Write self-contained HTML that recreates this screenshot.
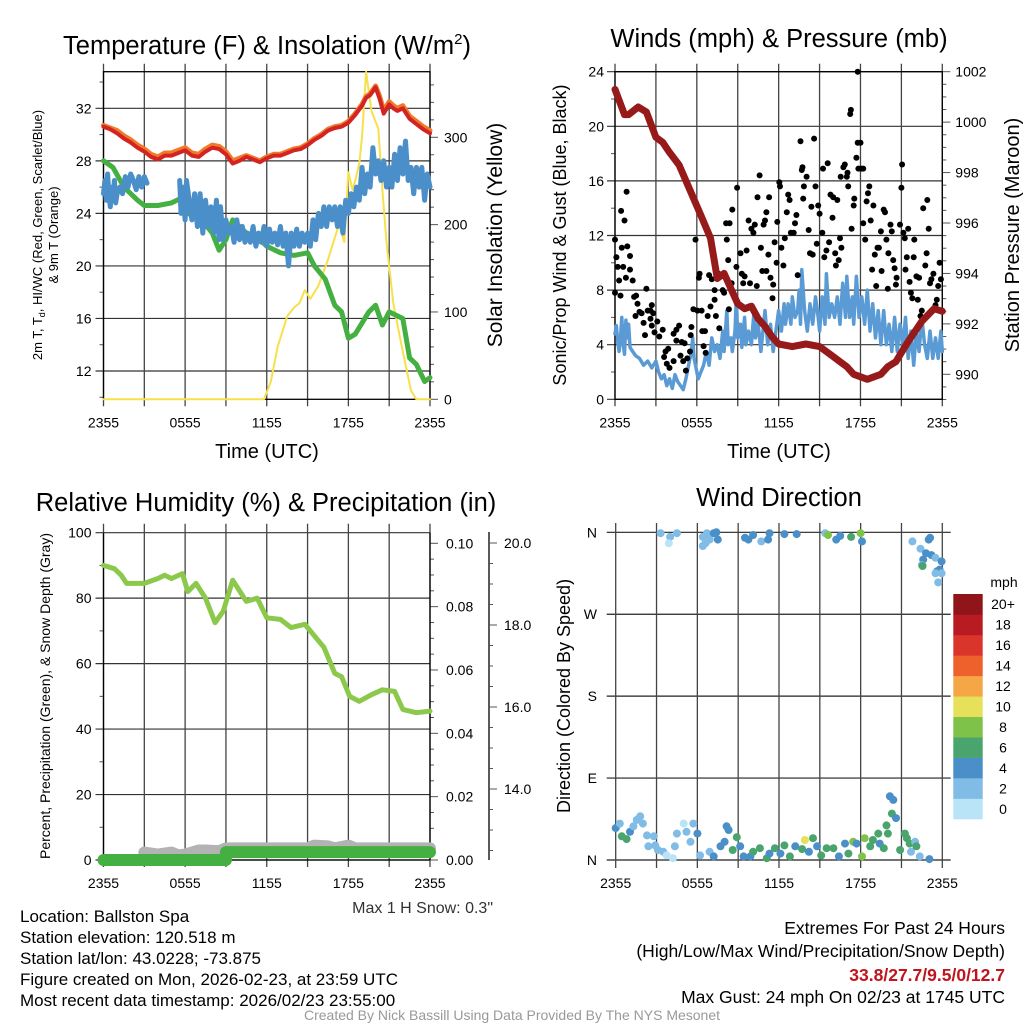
<!DOCTYPE html>
<html><head><meta charset="utf-8">
<style>
html,body{margin:0;padding:0;background:#fff;}
svg{display:block;font-family:"Liberation Sans",sans-serif;}
</style></head>
<body>
<svg id="chart" width="1024" height="1024" viewBox="0 0 1024 1024" xmlns="http://www.w3.org/2000/svg">
<rect width="1024" height="1024" fill="#fff"/>
<g id="p1"></g>
<g id="p2"></g>
<g id="p3"></g>
<g id="p4"></g>
<g id="txt">
<text x="20" y="922" font-size="17">Location: Ballston Spa</text>
<text x="20" y="943" font-size="17">Station elevation: 120.518 m</text>
<text x="20" y="964" font-size="17">Station lat/lon: 43.0228; -73.875</text>
<text x="20" y="985" font-size="17">Figure created on Mon, 2026-02-23, at 23:59 UTC</text>
<text x="20" y="1006" font-size="17">Most recent data timestamp: 2026/02/23 23:55:00</text>
<text x="493" y="913" font-size="16" text-anchor="end" fill="#333">Max 1 H Snow: 0.3"</text>
<text x="1005" y="934" font-size="17.5" text-anchor="end">Extremes For Past 24 Hours</text>
<text x="1005" y="957" font-size="17.5" text-anchor="end">(High/Low/Max Wind/Precipitation/Snow Depth)</text>
<text x="1005" y="981" font-size="17.5" font-weight="bold" text-anchor="end" fill="#c0151d">33.8/27.7/9.5/0/12.7</text>
<text x="1005" y="1003" font-size="17.5" text-anchor="end">Max Gust: 24 mph On 02/23 at 1745 UTC</text>
<text x="512" y="1020" font-size="14" text-anchor="middle" fill="#999">Created By Nick Bassill Using Data Provided By The NYS Mesonet</text>
</g>
</svg>
<script>
// ---------- DATA ----------
const timeTicks = ["2355","0555","1155","1755","2355"];
// Panel 1
const tempH = [0,0.5,1,1.5,2,2.5,3,3.5,4,4.5,5,5.5,6,6.5,7,7.5,8,8.5,9,9.5,10,10.5,11,11.5,12,12.5,13,13.5,14,14.5,15,15.5,16,16.5,17,17.5,18,18.5,19,19.3,19.6,20,20.3,20.6,21,21.3,21.6,22,22.5,23,23.5,24];
const tempV = [30.6,30.4,30.1,29.7,29.4,29.0,28.7,28.3,28.1,28.4,28.4,28.6,28.8,28.4,28.3,28.7,29.0,28.9,28.5,27.8,28.0,28.3,28.1,27.9,28.2,28.4,28.4,28.6,28.8,28.9,29.2,29.6,29.9,30.3,30.5,30.6,30.9,31.5,32.2,32.8,33.0,33.6,32.7,31.6,32.3,32.0,31.8,32.0,31.2,30.8,30.4,30.1];
const t9V = [30.7,30.5,30.3,29.9,29.6,29.2,28.9,28.5,28.3,28.6,28.6,28.8,29.0,28.6,28.5,28.9,29.2,29.1,28.7,28.0,28.2,28.4,28.2,28.0,28.3,28.5,28.5,28.7,28.9,29.0,29.3,29.7,30.0,30.4,30.6,30.7,31.0,31.6,32.3,32.9,33.1,33.7,32.9,31.8,32.5,32.2,32.0,32.2,31.4,31.0,30.6,30.3];
const dewH = [0,0.7,1.5,2.5,3,4,5,5.8,6.1,7,8,8.5,9,9.5,10.5,11.5,12,13,14,15,15.5,16.3,17,17.5,18,18.5,19.5,20,20.5,21,22,22.5,23,23.6,24];
const dewV = [28.0,27.5,26.0,25.0,24.6,24.6,24.8,25.2,24.0,23.8,22.5,21.2,22.0,23.5,22.5,22.0,21.5,21.0,20.8,21.0,20.0,19.0,17.0,16.5,14.5,14.8,16.5,17.0,15.5,16.5,16.0,13.0,12.5,11.2,11.5];
const wcH1 = [0,0.1,0.2,0.3,0.4,0.5,0.6,0.7,0.8,0.9,1.0,1.2,1.4,1.6,1.8,2.0,2.2,2.4,2.6,2.8,3.0,3.2];
const wcV1 = [25.5,26.5,25.0,27.0,25.5,24.5,26.0,25.0,26.5,24.8,25.5,26.0,25.5,26.8,26.0,27.0,26.5,25.8,26.8,26.0,26.8,26.3];
const wcH2 = [5.6,5.7,5.8,6.0,6.1,6.3,6.5,6.7,6.9,7.1,7.3,7.5,7.7,7.9,8.1,8.3,8.5,8.6,8.8,9.0,9.2,9.4,9.6,9.8,10.0,10.2,10.4,10.6,10.8,11.0,11.2,11.4,11.6,11.8,12.0,12.2,12.4,12.6,12.8,13.0,13.2,13.4,13.6,13.8,14.0,14.2,14.4,14.6,14.8,15.0,15.2,15.4,15.6,15.8,16.0,16.2,16.4,16.6,16.8,17.0,17.2,17.4,17.6,17.8,18.0,18.2,18.4,18.6,18.8,19.0,19.2,19.4,19.6,19.8,20.0,20.2,20.4,20.6,20.8,21.0,21.2,21.4,21.6,21.8,22.0,22.2,22.4,22.6,22.8,23.0,23.2,23.4,23.6,23.8,24.0];
const wcV2 = [26.5,24.0,26.0,23.5,26.5,25.0,23.5,25.5,23.0,25.5,22.5,25.0,23.0,24.5,22.5,25.0,22.0,24.5,22.0,23.5,22.5,23.0,21.8,23.5,22.0,23.0,21.8,22.5,21.8,23.0,21.5,22.5,21.8,23.0,21.5,22.8,21.8,22.5,21.6,23.0,21.5,22.5,20.0,22.5,21.5,22.8,21.5,22.5,21.8,22.5,21.5,23.5,22.0,24.0,23.0,24.5,23.0,24.5,23.5,24.5,23.0,24.5,22.5,25.0,24.0,25.5,24.5,26.0,25.0,27.5,25.5,27.0,26.0,29.0,27.0,28.0,26.5,28.0,26.0,27.5,26.0,28.5,26.5,29.0,27.0,29.5,26.5,27.5,25.5,27.5,26.0,27.5,25.0,27.0,26.0];
const solH = [0,11.8,12.3,12.8,13.5,14,14.4,14.8,15.2,15.8,16.5,17.3,17.7,18.0,18.3,18.5,18.8,19.0,19.3,19.7,20.2,20.5,20.8,21.3,21.8,22.2,22.6,23,24];
const solV = [0,0,20,60,95,105,110,125,115,130,160,200,180,260,240,250,270,300,375,330,310,240,180,110,70,40,10,0,0];
const tempTicks = [12,16,20,24,28,32];
const solTicks = [0,100,200,300];
// Panel 2
const windH = [0,0.1,0.2,0.3,0.4,0.5,0.6,0.7,0.8,0.9,1.0,1.1,1.3,1.5,1.8,2.1,2.4,2.7,3.0,3.2,3.4,3.6,3.8,4.0,4.2,4.4,4.6,4.8,5.0,5.2,5.4,5.6,5.7,5.8,5.9,6.1,6.3,6.5,6.7,6.9,7.1,7.3,7.5,7.7,7.9,8.0,8.2,8.3,8.5,8.6,8.8,8.9,9.0,9.2,9.3,9.5,9.6,9.8,10.0,10.2,10.3,10.5,10.7,10.9,11.0,11.2,11.4,11.6,11.8,12.0,12.2,12.4,12.5,12.7,12.9,13.0,13.2,13.4,13.5,13.6,13.7,13.9,14.1,14.3,14.5,14.7,14.9,15.0,15.2,15.4,15.5,15.7,15.9,16.1,16.3,16.5,16.7,16.9,17.0,17.2,17.4,17.5,17.7,17.9,18.1,18.3,18.5,18.7,18.9,19.1,19.3,19.5,19.7,19.9,20.1,20.3,20.5,20.7,20.9,21.1,21.3,21.5,21.7,21.9,22.1,22.3,22.5,22.7,22.9,23.1,23.3,23.5,23.7,23.9,24];
const windV = [4.8,5.4,4.2,3.5,4.5,6.0,4.0,3.3,5.8,4.5,5.5,3.8,3.5,3.2,3.0,2.5,2.8,2.3,2.8,2.0,1.5,1.8,1.0,1.5,0.8,1.8,1.3,1.0,0.7,1.5,2.5,3.5,4.5,3.0,2.5,1.5,2.0,2.5,3.5,2.5,4.5,3.5,4.0,3.0,5.0,3.5,6.5,4.0,4.5,3.5,5.0,7.5,4.5,5.5,3.8,6.0,4.0,5.0,4.0,6.5,4.5,5.5,3.5,5.5,6.5,4.0,5.5,3.5,5.0,6.5,5.0,7.0,5.5,7.0,5.5,7.5,6.0,6.5,8.0,5.5,9.5,6.5,5.0,7.0,5.5,7.5,6.0,5.0,7.5,5.5,9.2,6.0,7.0,6.0,7.5,5.5,8.5,6.0,9.0,6.0,7.5,5.5,9.0,6.0,7.5,5.5,8.0,5.0,7.0,4.5,6.5,4.0,6.5,4.0,5.5,3.5,6.0,3.5,5.5,4.0,6.0,3.0,5.0,2.5,5.0,3.5,6.0,4.0,3.0,5.0,3.0,4.5,3.0,5.0,3.5];
const gustH = [0,0.1,0.2,0.3,0.4,0,0.45,0.7,0.85,0.5,0.9,0.6,0.8,1.1,1.1,1.3,1.4,1.55,1.65,1.5,1.8,1.95,2.1,2.2,2.3,2.4,2.6,2.7,2.6,2.8,2.7,2.9,3.1,3.25,3.5,3.6,3.7,3.8,4.0,3.9,4.3,4.3,4.5,4.7,4.5,4.8,4.9,5.0,5.2,5.3,5.1,5.5,5.55,5.6,5.75,5.9,6.05,6.15,6.2,6.35,6.4,6.6,6.5,6.65,6.8,6.9,7.1,7.0,7.3,7.4,7.3,7.6,7.65,7.9,8.0,8.2,8.15,8.4,8.3,8.35,8.55,8.6,8.9,8.95,9.2,9.3,9.4,9.5,9.65,9.8,9.9,10.0,10.15,10.25,10.45,10.4,10.6,10.7,10.8,10.9,11.0,11.1,11.1,11.25,11.3,11.4,11.55,11.6,11.7,11.85,11.9,12.05,12.1,12.2,12.35,12.45,12.6,12.7,12.8,12.9,13.1,13.2,13.3,13.4,13.6,13.7,13.75,13.8,13.85,14.05,14.2,14.3,14.4,14.5,14.6,14.7,14.8,14.9,15.0,15.2,15.25,15.35,15.5,15.6,15.7,15.8,15.95,16.0,16.15,16.2,16.3,16.4,16.5,16.55,16.6,16.75,16.85,17.0,17.05,17.1,17.25,17.3,17.35,17.5,17.55,17.7,17.8,17.8,17.85,18.0,18.05,18.2,18.2,18.35,18.45,18.55,18.65,18.75,18.85,18.95,19.05,19.15,19.25,19.35,19.5,19.55,19.7,19.8,19.9,20.0,20.05,20.2,20.3,20.4,20.5,20.6,20.65,20.9,21.0,21.05,21.15,21.25,21.3,21.4,21.5,21.6,21.7,21.8,21.9,21.95,22.1,22.2,22.3,22.4,22.5,22.6,22.75,22.85,22.9,23.0,23.1,23.2,23.35,23.5,23.6,23.7,23.8,23.9,24.0];
const gustV = [11.7,10.4,9.7,8.7,7.6,7.8,13.8,13.1,15.2,11.1,11.2,9.7,8.9,10.5,9.5,8.7,7.5,7.6,7.0,6.1,6.4,6.3,5.6,4.7,8.1,6.5,6.5,6.9,5.9,6.3,5.4,4.9,5.7,4.6,5.1,3.1,3.5,2.6,2.3,3.7,2.8,4.8,5.1,5.4,4.3,3.2,4.2,2.8,2.1,3.0,4.1,3.5,4.7,5.3,6.6,11.7,6.5,8.9,9.2,6.5,5.0,5.0,3.9,3.4,6.1,9.1,8.8,6.8,7.3,6.1,8.0,9.2,5.2,8.0,7.8,11.7,12.9,12.9,10.2,6.6,8.5,13.9,9.7,15.5,10.7,9.2,8.5,9.0,10.9,13.1,8.5,12.5,12.2,12.8,14.8,8.3,16.4,11.1,9.4,12.8,13.1,9.4,13.7,10.6,14.8,8.9,7.4,8.4,11.5,10.0,13.0,15.9,15.6,11.1,9.8,11.8,13.7,15.0,14.6,12.2,12.2,12.9,13.5,9.1,18.9,16.8,17.0,14.7,15.6,16.3,12.4,10.7,14.1,10.6,19.1,15.6,11.4,14.2,13.6,12.2,16.9,10.4,10.9,17.3,11.5,15.0,13.3,14.8,10.7,9.8,14.6,10.2,11.8,16.3,11.1,17.0,17.2,16.3,16.6,15.6,20.9,21.2,12.5,14.2,14.7,17.7,24.0,18.8,16.9,18.8,16.9,16.9,12.9,11.7,14.5,15.1,15.6,13.1,9.5,14.2,10.6,8.3,11.1,11.1,12.3,9.4,13.9,13.7,11.7,8.1,10.7,12.8,12.3,10.2,9.6,8.4,8.9,12.8,15.5,17.2,12.2,11.8,9.5,10.4,12.5,8.6,7.8,7.4,10.4,11.7,9.0,7.3,8.9,6.1,6.5,14.0,9.8,10.7,14.6,12.5,8.5,8.8,9.2,6.9,7.3,8.3,10.0,8.8,6.5];
const presH = [0,0.7,1,1.7,2.3,3,3.5,4,4.7,5.5,6.3,7,7.5,8,9,9.5,10,10.5,11,11.5,12,13,14,15,15.5,16,16.5,17,17.5,18,18.5,19.5,20,20.6,21.5,22.5,23.4,24];
const presV = [1001.3,1000.3,1000.3,1000.6,1000.4,999.4,999.2,998.8,998.3,997.3,996.3,995.4,993.8,994.0,992.8,992.6,992.7,992.2,991.9,991.5,991.2,991.1,991.2,991.1,990.9,990.7,990.5,990.3,990.0,989.9,989.8,990.0,990.3,990.5,991.3,992.1,992.6,992.5];
const windTicks = [0,4,8,12,16,20,24];
const presTicks = [990,992,994,996,998,1000,1002];
// Panel 3
const rhH = [0,0.8,1.3,1.7,3,4,4.5,5,5.8,6.2,6.8,7.5,8.2,8.8,9.5,10.5,11.3,12,13,13.8,14.8,15.2,16.2,17,17.5,18.1,18.8,19.7,20.5,21.4,22,23,24];
const rhV = [90,89,87,84.5,84.5,86,87,86,87.5,82,84.5,80,72.5,76,85.5,79,80,74,73.5,71,72,70,65,57,56,50,48.5,50.5,52,51.5,46,45,45.5];
const snowH = [3,4,5,5.5,6,7,7.5,8.5,9,15,15.5,16.5,17,18,18.5,24];
const snowV = [12.45,12.4,12.45,12.38,12.4,12.5,12.5,12.48,12.55,12.55,12.62,12.6,12.55,12.62,12.55,12.55];
const precH = [0,9,9,24];
const precV = [0,0,0.0025,0.0025];
const rhTicks = [0,20,40,60,80,100];
const precTicks = [0.00,0.02,0.04,0.06,0.08,0.10];
const snowTicks = [14,16,18,20];
// Panel 4
const dirH = [3.3,4,4.5,3.9,6.4,6.7,6.6,6.9,7.2,7.4,7.5,6.4,9.5,9.75,10.1,10.7,11.2,11.3,12.4,13.3,15.4,15.6,16.2,16.5,17.3,18.0,18.1,21.8,22.4,23.0,23.1,22.8,22.6,22.5,22.55,23.2,23.5,23.95,23.6,23.8,23.5,23.7,23.95,
 0,0.3,0.45,0.8,1.05,1.3,1.55,1.8,2.0,2.3,2.4,2.8,2.9,3.1,3.5,3.75,4.2,4.35,4.5,5.0,5.2,5.7,5.5,6.0,6.2,6.9,7.2,7.7,8.0,8.15,8.3,8.6,8.9,9.15,9.4,9.9,10.1,10.6,11.1,11.3,11.7,12.1,12.4,12.8,13.2,13.7,13.9,14.2,14.5,14.8,15.1,15.5,16.0,16.4,16.85,17.1,17.45,17.7,18.1,18.3,18.7,18.9,19.3,19.4,19.7,19.9,20.0,20.15,20.4,20.3,20.6,20.9,21.25,21.4,21.6,21.7,22.0,22.1,22.35,23.05];
const dirD = [359,355,359,348,355,359,348,352,359,360,352,345,354,352,357,350,352,359,358,358,359,357,352,356,355,359,350,350,342,352,354,337,330,324,323,335,332,328,317,319,315,305,315,
 35,40,26,23,31,37,44,48,40,27,15,26,16,11,9,5,2,15,29,40,31,40,20,29,5,9,4,15,20,37,33,11,25,15,4,4,9,13,2,7,13,7,16,4,15,12,22,9,24,15,5,13,13,4,18,7,20,18,4,24,15,22,29,18,13,38,29,70,66,51,46,11,29,24,18,9,20,15,4,1];
const dirS = [2,1,2,0,2,2,2,2,4,4,4,2,4,4,4,2,4,4,4,4,2,8,4,4,6,8,4,2,2,4,4,4,4,2,6,4,2,4,4,4,2,2,2,
 4,2,6,6,4,2,2,2,2,2,2,2,2,2,2,0,0,2,2,0,2,2,2,4,2,2,4,4,4,4,4,6,6,4,4,4,6,6,6,4,6,4,6,6,4,6,10,4,6,4,6,6,6,4,4,6,8,4,8,8,6,6,6,4,6,6,6,4,4,6,4,6,6,6,6,2,2,6,2,4];
const dirTicks = ["N","E","S","W","N"];
const cbLabels = ["0","2","4","6","8","10","12","14","16","18","20+"];
const cbColors = ["#b9e3f6","#80bce5","#4a8fc7","#49a56d","#7fc24a","#e6e05a","#f5a745","#ee612d","#d9352a","#b81b22","#8f1519"];

// ---------- DRAW ----------
const NS="http://www.w3.org/2000/svg";
function mk(parent,tag,attrs,text){const e=document.createElementNS(NS,tag);for(const k in attrs)e.setAttribute(k,attrs[k]);if(text!==undefined)e.textContent=text;parent.appendChild(e);return e;}
function lin(d0,d1,r0,r1){return v=>r0+(v-d0)/(d1-d0)*(r1-r0);}
function pathOf(hs,vs,sx,sy){let d="";for(let i=0;i<hs.length;i++){d+=(i?"L":"M")+sx(hs[i]).toFixed(1)+" "+sy(vs[i]).toFixed(1);}return d;}
function line(g,name,hs,vs,sx,sy,color,w){const p=mk(g,"path",{d:pathOf(hs,vs,sx,sy),fill:"none",stroke:color,"stroke-width":w,"stroke-linejoin":"round","stroke-linecap":"round"});return p;}
function txt(g,name,x,y,s,opts){const t=mk(g,"text",Object.assign({x:x,y:y},opts||{}),s);return t;}
function vtitle(g,name,x,y,s,size){const t=mk(g,"text",{x:0,y:0,transform:`translate(${x},${y}) rotate(-90)`,"text-anchor":"middle","font-size":size},s);return t;}
function xAxis(g,L,R,T,B,ext){const sx=lin(0,24,L,R);
 for(let i=0;i<=8;i++){const x=sx(i*3);mk(g,"line",{x1:x,y1:T-(ext?9:8),x2:x,y2:B+7,stroke:"#444","stroke-width":1.3});}
 timeTicks.forEach((s,i)=>txt(g,"x-tick-label",sx(i*6),B+28,s,{"text-anchor":"middle","font-size":14}));
 return sx;}

// Panel 1
(function(){const g=document.getElementById('p1');const L=103.5,R=430,T=71.7,B=399.3;
 const sy=lin(12,32,371,108.3), sr=lin(0,300,399.3,137.3);
 tempTicks.forEach(v=>{mk(g,"line",{x1:L-8,y1:sy(v),x2:R,y2:sy(v),stroke:"#333","stroke-width":1.2});txt(g,"y-tick-label",L-12,sy(v)+5,String(v),{"text-anchor":"end","font-size":14});});
 for(let v=10;v<=35;v+=2){if(v%4)mk(g,"line",{x1:L-4,y1:sy(v),x2:L,y2:sy(v),stroke:"#555"});}
 for(let v=0;v<=375;v+=20){mk(g,"line",{x1:R,y1:sr(v),x2:R+(v%100?4:8),y2:sr(v),stroke:"#555"});}
 solTicks.forEach(v=>txt(g,"y2-tick-label",R+14,sr(v)+5,String(v),{"font-size":14}));
 const sx=xAxis(g,L,R,T,B);
 mk(g,"rect",{x:L,y:T,width:R-L,height:B-T,fill:"none",stroke:"#000","stroke-width":1.3});
 line(g,"solar-line",solH,solV,sx,sr,"#f7e04a",2);
 line(g,"dewpoint-line",dewH,dewV,sx,sy,"#45b042",5);
 line(g,"windchill-line-a",wcH1,wcV1,sx,sy,"#4a8fc9",5);
 line(g,"windchill-line-b",wcH2,wcV2,sx,sy,"#4a8fc9",5);
 line(g,"temp9m-line",tempH,t9V,sx,sy,"#f07a2a",5);
 line(g,"temp2m-line",tempH,tempV,sx,sy,"#d42422",4);
 const t=txt(g,"chart-title",267,54,"Temperature (F) & Insolation (W/m",{"text-anchor":"middle","font-size":25.5});
 mk(t,"tspan",{dy:-10,"font-size":15},"2");mk(t,"tspan",{dy:10},")");
 vtitle(g,"y-axis-title",42,235,"",13).innerHTML='2m T, T<tspan font-size="9" dy="3">d</tspan><tspan dy="-3">, HI/WC (Red, Green, Scarlet/Blue)</tspan>';
 vtitle(g,"y-axis-title-2",58,235,"& 9m T (Orange)",13);
 vtitle(g,"y2-axis-title",502,235,"Solar Insolation (Yellow)",21);
 txt(g,"x-axis-title",267,458,"Time (UTC)",{"text-anchor":"middle","font-size":20});
})();

// Panel 2
(function(){const g=document.getElementById('p2');const L=615,R=942.3,T=71.7,B=399.3;
 const sy=lin(0,24,399.3,71.7), sr=lin(990,1002,374.3,71.7);
 windTicks.forEach(v=>{mk(g,"line",{x1:L-8,y1:sy(v),x2:R,y2:sy(v),stroke:"#333","stroke-width":1.2});txt(g,"y-tick-label",L-11,sy(v)+5,String(v),{"text-anchor":"end","font-size":14});});
 for(let v=2;v<24;v+=4)mk(g,"line",{x1:L-4,y1:sy(v),x2:L,y2:sy(v),stroke:"#555"});
 for(let v=989;v<=1002;v+=0.5){mk(g,"line",{x1:R,y1:sr(v),x2:R+(v%2===0?8:4),y2:sr(v),stroke:"#555"});}
 presTicks.forEach(v=>txt(g,"y2-tick-label",R+13,sr(v)+5,String(v),{"font-size":14}));
 const sx=xAxis(g,L,R,T,B);
 mk(g,"rect",{x:L,y:T,width:R-L,height:B-T,fill:"none",stroke:"#000","stroke-width":1.3});
 line(g,"wind-line",windH,windV,sx,sy,"#5a9bd5",3.5);
 for(let i=0;i<gustH.length;i++){const c=mk(g,"circle",{cx:sx(gustH[i]).toFixed(1),cy:sy(gustV[i]).toFixed(1),r:3,fill:"#000"});
  
  }
 line(g,"pressure-line",presH,presV,sx,sr,"#961a1a",7);
 txt(g,"chart-title",779,47,"Winds (mph) & Pressure (mb)",{"text-anchor":"middle","font-size":25.5});
 vtitle(g,"y-axis-title",566,235,"Sonic/Prop Wind & Gust (Blue, Black)",18);
 vtitle(g,"y2-axis-title",1019,235,"Station Pressure (Maroon)",20);
 txt(g,"x-axis-title",779,458,"Time (UTC)",{"text-anchor":"middle","font-size":20});
})();

// Panel 3
(function(){const g=document.getElementById('p3');const L=103.5,R=430,T=532.7,B=860;
 const sy=lin(0,100,860,532.7), sp=lin(0,0.1,860,543.3), ss=lin(14,20,789,543);
 rhTicks.forEach(v=>{mk(g,"line",{x1:L-8,y1:sy(v),x2:R,y2:sy(v),stroke:"#333","stroke-width":1.2});txt(g,"y-tick-label",L-12,sy(v)+5,String(v),{"text-anchor":"end","font-size":14});});
 for(let v=10;v<100;v+=20)mk(g,"line",{x1:L-4,y1:sy(v),x2:L,y2:sy(v),stroke:"#555"});
 for(let v=0;v<=0.1001;v+=0.005){mk(g,"line",{x1:R,y1:sp(v),x2:R+(Math.round(v*1000)%20===0?8:4),y2:sp(v),stroke:"#555"});}
 precTicks.forEach(v=>txt(g,"y2-tick-label",R+16,sp(v)+5,v.toFixed(2),{"font-size":14}));
 mk(g,"line",{x1:489,y1:532,x2:489,y2:860,stroke:"#000","stroke-width":1.3});
 for(let v=12.5;v<=20;v+=0.5){mk(g,"line",{x1:489,y1:ss(v),x2:489+(v%2===0?8:4),y2:ss(v),stroke:"#555"});}
 snowTicks.forEach(v=>txt(g,"y3-tick-label",504,ss(v)+5,v.toFixed(1),{"font-size":14}));
 const sx=xAxis(g,L,R,T,B,true);
 mk(g,"line",{x1:L,y1:T,x2:L,y2:B,stroke:"#000","stroke-width":1.3});
 mk(g,"line",{x1:R,y1:T,x2:R,y2:B,stroke:"#000","stroke-width":1.3});
 mk(g,"line",{x1:L,y1:B,x2:R,y2:B,stroke:"#000","stroke-width":1.3});
 line(g,"snow-depth-line",snowH,snowV,sx,ss,"#b3b3b3",12);
 line(g,"precip-line",precH,precV,sx,sp,"#45b042",12);
 line(g,"rh-line",rhH,rhV,sx,sy,"#8cc84b",5);
 txt(g,"chart-title",266,511,"Relative Humidity (%) & Precipitation (in)",{"text-anchor":"middle","font-size":25.5});
 vtitle(g,"y-axis-title",50,696,"Percent, Precipitation (Green), & Snow Depth (Gray)",14);
})();

// Panel 4
(function(){const g=document.getElementById('p4');const L=615.7,R=942.3,T=532.3,B=860;
 const sy=lin(0,360,860,532.3);
 dirTicks.forEach((s,i)=>{const y=sy(i*90);mk(g,"line",{x1:606.7,y1:y,x2:950.7,y2:y,stroke:"#222","stroke-width":1.2});txt(g,"y-tick-label",597,y+5,s,{"text-anchor":"end","font-size":14});});
 const sx=lin(0,24,L,R);
 for(let i=0;i<=8;i++){const x=sx(i*3);mk(g,"line",{x1:x,y1:523,x2:x,y2:868,stroke:"#444","stroke-width":1.3});}
 timeTicks.forEach((s,i)=>txt(g,"x-tick-label",sx(i*6),B+28,s,{"text-anchor":"middle","font-size":14}));
 for(let i=0;i<dirH.length;i++){const ci=Math.min(10,Math.round(dirS[i]/2));
  const c=mk(g,"circle",{cx:sx(dirH[i]).toFixed(1),cy:sy(dirD[i]).toFixed(1),r:4,fill:cbColors[ci]});
  
  }
 const cb=mk(g,"g",{});
 const h=(819-594)/11;
 cbColors.forEach((c,i)=>{const y=819-(i+1)*h;mk(cb,"rect",{x:953.3,y:y,width:29.4,height:h+0.3,fill:c});txt(cb,"colorbar-label",1003,y+h/2+5,cbLabels[i],{"text-anchor":"middle","font-size":14});});
 txt(cb,"colorbar-unit",1004,587,"mph",{"text-anchor":"middle","font-size":14});
 txt(g,"chart-title",779,506,"Wind Direction",{"text-anchor":"middle","font-size":25.5});
 vtitle(g,"y-axis-title",570,696,"Direction (Colored By Speed)",18);
})();
</script>
</body></html>
